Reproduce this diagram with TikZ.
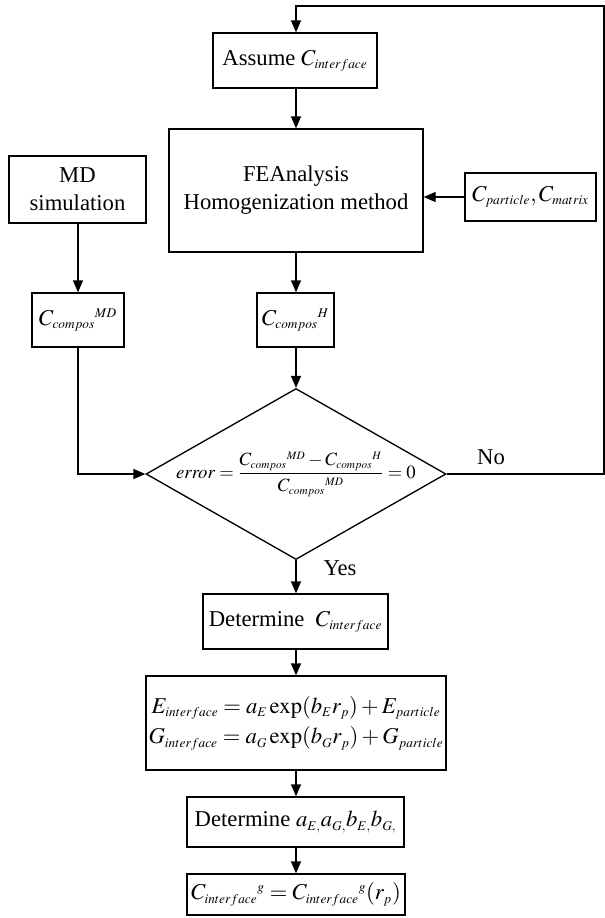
\documentclass[tikz,border=0pt]{standalone}
\usepackage{mathptmx}
\usepackage{fontspec}
\setmainfont{Liberation Serif}
\usetikzlibrary{shapes.geometric,arrows.meta}
\DeclareMathSizes{17}{17}{10}{8}
\DeclareMathSizes{14}{14}{8.5}{7}
\newcommand{\flowfont}{\fontsize{17}{21}\selectfont}
\newcommand{\errfont}{\fontsize{14}{17}\selectfont}

\tikzset{every picture/.style={line width=1pt}}
\tikzset{
  flowbox/.style={draw,inner sep=0pt,align=center,font=\flowfont},
  flowtext/.style={inner sep=0.75pt,font=\flowfont},
  flowarrow/.style={-{Triangle[length=9pt,width=7.5pt]}}
}

\begin{document}
\begin{tikzpicture}[x=0.75pt,y=0.75pt,yscale=-1,xscale=1]
		\useasboundingbox (0,0) rectangle (605,918);
		
		%Shape: Rectangle [assume]
		\node (assume) [flowbox,minimum width=123pt,minimum height=41.25pt] at (295,60.5) {Assume $C_{interface}$};
		%Shape: Rectangle [FE analysis]
		\node (fe) [flowbox,minimum width=190.5pt,minimum height=92.25pt] at (296,190.5) {FEAnalysis\\Homogenization method};
		%Shape: Rectangle [particle, matrix]
		\node (cpm) [flowbox,minimum width=98.25pt,minimum height=36pt] at (530.5,197) {$C_{particle},C_{matrix}$};
		%Shape: Rectangle [MD]
		\node (md) [flowbox,minimum width=102.75pt,minimum height=50.25pt] at (77.5,189.5) {MD\\simulation};
		%Shape: Rectangle [compos MD]
		\node (cmd) [flowbox,minimum width=69pt,minimum height=40.5pt] at (78,320) {$C_{compos}{}^{MD}$};
		%Shape: Rectangle [compos H]
		\node (ch) [flowbox,minimum width=57.75pt,minimum height=40.5pt] at (295.5,320) {$C_{compos}{}^{H}$};
		%Shape: Diamond [error]
		\node (dec) [draw,diamond,inner sep=0pt,minimum width=225pt,minimum height=128.25pt] at (296,474) {};
		% Text Node
		\node (errtxt) [inner sep=0.75pt,font=\errfont] at (dec.center) {$\displaystyle\mathit{error}=\frac{C_{compos}{}^{MD}-C_{compos}{}^{H}}{C_{compos}{}^{MD}}=0$};
		%Shape: Rectangle [determine C]
		\node (detc) [flowbox,minimum width=138.75pt,minimum height=41.25pt] at (295.5,621.5) {Determine\ \ $C_{interface}$};
		%Shape: Rectangle [fit equations]
		\node (eq) [flowbox,minimum width=225pt,minimum height=70.5pt] at (296,723) {$E_{interface}=a_{E}\exp(b_{E}r_{p})+E_{particle}$\\[2pt]$G_{interface}=a_{G}\exp(b_{G}r_{p})+G_{particle}$};
		%Shape: Rectangle [determine a, b]
		\node (deta) [flowbox,minimum width=162.75pt,minimum height=37.5pt] at (295.5,822) {Determine $a_{E,}a_{G,}b_{E,}b_{G,}$};
		%Shape: Rectangle [result]
		\node (final) [flowbox,minimum width=163.5pt,minimum height=30.75pt] at (296,894.5) {$C_{interface}{}^{g}=C_{interface}{}^{g}(r_{p})$};
		
		% Text Node
		\node (no) [flowtext] at (491,457) {No};
		% Text Node
		\node (yes) [flowtext] at (340,568) {Yes};
		
		%Straight Lines [loop back]
		\coordinate (loopbr) at (604,474);
		\coordinate (looptr) at (604,6);
		\coordinate (looptl) at (296,6);
		\draw [flowarrow] (dec.east) -- (loopbr) -- (looptr) -- (looptl) -- (looptl |- assume.north);
		%Straight Lines
		\draw [flowarrow] (assume.south -| fe.north) -- (fe.north);
		%Straight Lines
		\draw [flowarrow] (cpm.west) -- (cpm.west -| fe.east);
		%Straight Lines
		\draw [flowarrow] (md.south -| cmd.north) -- (cmd.north);
		%Straight Lines
		\draw [flowarrow] (fe.south) -- (fe.south |- ch.north);
		%Straight Lines
		\draw [flowarrow] (ch.south -| dec.north) -- (dec.north);
		%Straight Lines
		\draw [flowarrow] (cmd.south) |- (dec.west);
		%Straight Lines
		\draw [flowarrow] (dec.south) -- (dec.south |- detc.north);
		%Straight Lines
		\draw [flowarrow] (detc.south -| eq.north) -- (eq.north);
		%Straight Lines
		\draw [flowarrow] (eq.south) -- (eq.south |- deta.north);
		%Straight Lines
		\draw [flowarrow] (deta.south -| final.north) -- (final.north);
		
\end{tikzpicture}
\end{document}
